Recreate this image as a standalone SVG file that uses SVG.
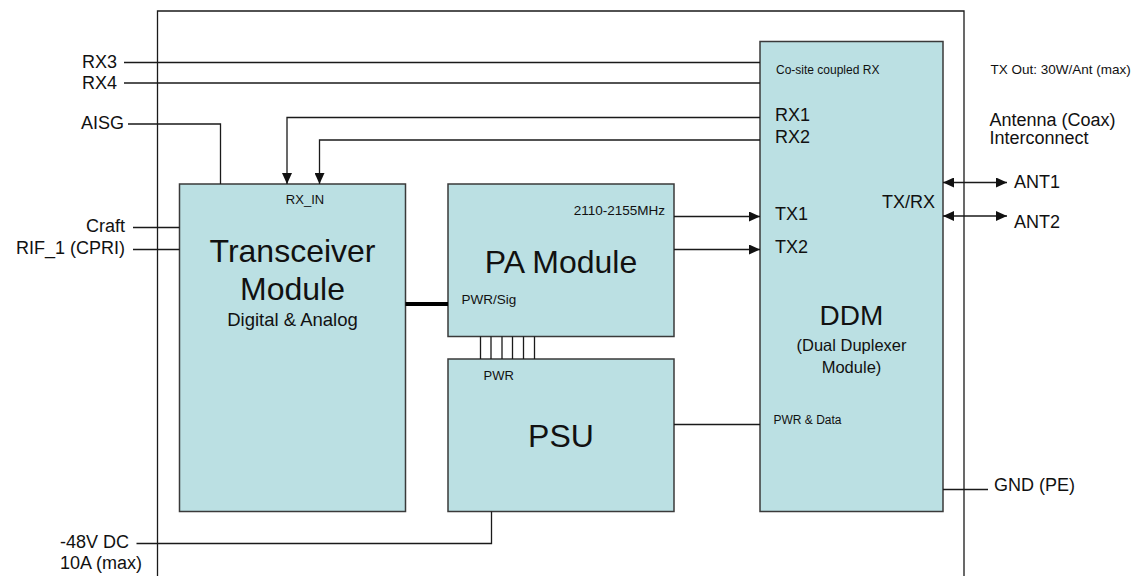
<svg xmlns="http://www.w3.org/2000/svg" width="1140" height="576" viewBox="0 0 1140 576">
<style>
  text { font-family: "Liberation Sans", Arial, sans-serif; fill: #111; }
  .l { font-size: 18px; }
  .r { text-anchor: end; }
  .m { text-anchor: middle; }
  .t { font-size: 32px; }
  .s { font-size: 13.5px; }
  .xs { font-size: 12px; }
  .box { fill: #BBE0E3; stroke: #3a3a3a; stroke-width: 1.5; }
  .w { fill: none; stroke: #1a1a1a; stroke-width: 1.3; }
</style>
<defs>
  <marker id="ah" markerUnits="userSpaceOnUse" markerWidth="12" markerHeight="10" refX="11" refY="5" orient="auto-start-reverse">
    <path d="M0,0 L11,5 L0,10 Z" fill="#111"/>
  </marker>
</defs>
<rect width="1140" height="576" fill="#fff"/>
<path id="frame" class="w" d="M157.5,580 V11 H964 V580"/>

<g id="transceiver">
  <rect class="box" x="179.5" y="184" width="226" height="327.5"/>
  <text class="s m" x="305" y="204" style="font-size:13px">RX_IN</text>
  <text class="t m" x="292.5" y="261.5">Transceiver</text>
  <text class="t m" x="292.5" y="299.5">Module</text>
  <text class="m" x="292.5" y="326" style="font-size:18.5px">Digital &amp; Analog</text>
</g>
<g id="pa">
  <rect class="box" x="448" y="184" width="226" height="152.5"/>
  <text class="s r" x="665" y="215">2110-2155MHz</text>
  <text class="t m" x="561" y="272.5">PA Module</text>
  <text class="s" x="461.5" y="304">PWR/Sig</text>
</g>
<g id="psu">
  <rect class="box" x="448" y="359" width="226" height="152.5"/>
  <text class="s" x="483.5" y="380" style="font-size:13px">PWR</text>
  <text class="t m" x="561" y="447">PSU</text>
</g>
<g id="ddm">
  <rect class="box" x="760" y="41.5" width="183" height="470"/>
  <text class="xs" x="776" y="74">Co-site coupled RX</text>
  <text class="l" x="775" y="121">RX1</text>
  <text class="l" x="775" y="143">RX2</text>
  <text class="l r" x="935" y="208">TX/RX</text>
  <text class="l" x="775" y="220">TX1</text>
  <text class="l" x="775" y="252.5">TX2</text>
  <text class="m" x="851.5" y="325" style="font-size:28px">DDM</text>
  <text class="m" x="851.5" y="350.5" style="font-size:16.5px">(Dual Duplexer</text>
  <text class="m" x="851.5" y="372.5" style="font-size:16.5px">Module)</text>
  <text class="xs" x="773.5" y="424">PWR &amp; Data</text>
</g>
<g id="external-labels">
  <text class="l r" x="117" y="68.3">RX3</text>
  <text class="l r" x="117" y="89">RX4</text>
  <text class="l r" x="124" y="128.5">AISG</text>
  <text class="l r" x="125" y="232">Craft</text>
  <text class="l r" x="125" y="254">RIF_1 (CPRI)</text>
  <text class="l" x="60" y="547.7">-48V DC</text>
  <text class="l" x="60" y="568.7">10A (max)</text>
  <text class="s" x="990.5" y="74">TX Out: 30W/Ant (max)</text>
  <text class="l" x="989.5" y="126">Antenna (Coax)</text>
  <text class="l" x="989.5" y="144">Interconnect</text>
  <text class="l" x="1014" y="187.5">ANT1</text>
  <text class="l" x="1014" y="227.5">ANT2</text>
  <text class="l" x="994" y="491">GND (PE)</text>
</g>
<g id="connectors">
  <path class="w" d="M124,62.5 H760"/>
  <path class="w" d="M124,83 H760"/>
  <path class="w" d="M128,124 H220.5 V184"/>
  <path class="w" d="M760,117.5 H287 V184" marker-end="url(#ah)"/>
  <path class="w" d="M760,140 H319.5 V184" marker-end="url(#ah)"/>
  <path class="w" d="M133,227.5 H179.5"/>
  <path class="w" d="M133,249.5 H179.5"/>
  <path fill="none" stroke="#000" stroke-width="4" d="M405.5,304 H448"/>
  <path class="w" d="M674,216.5 H760" marker-end="url(#ah)"/>
  <path class="w" d="M674,249.5 H760" marker-end="url(#ah)"/>
  <path class="w" d="M943,182.5 H1007" marker-start="url(#ah)" marker-end="url(#ah)"/>
  <path class="w" d="M943,216 H1007" marker-start="url(#ah)" marker-end="url(#ah)"/>
  <path class="w" d="M674,424.5 H760"/>
  <path class="w" d="M943,489.5 H988"/>
  <path class="w" d="M136.5,543.5 H491.5 V511.5"/>
  <path class="w" d="M480.5,336.5 V359 M491,336.5 V359 M502,336.5 V359 M512.5,336.5 V359 M523.5,336.5 V359 M534.5,336.5 V359"/>
</g>
</svg>
